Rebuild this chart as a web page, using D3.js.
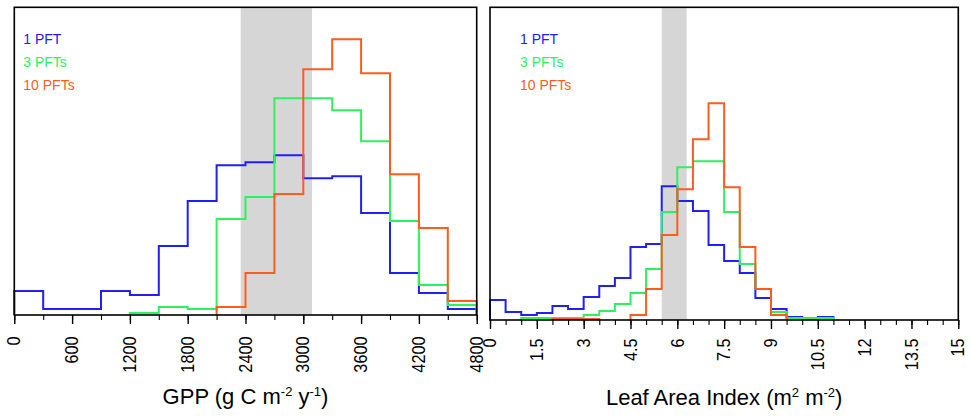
<!DOCTYPE html>
<html>
<head>
<meta charset="utf-8">
<script src="https://cdn.jsdelivr.net/npm/d3@7"></script>
<style>
  html, body { margin: 0; padding: 0; background: #fff; }
  svg { display: block; font-family: "Liberation Sans", Arial, Helvetica, sans-serif; }
</style>
</head>
<body>
<svg id="chart" width="970" height="418"></svg>
<script>
// ---------------- DATA ----------------
const seriesNames = ["1 PFT", "3 PFTs", "10 PFTs"];
const seriesColors = ["#2020f2", "#2cf25e", "#ff5c1e"];

// GPP histogram (bin starts, g C m-2 y-1), counts per bin
const gppBinWidth = 300;
const gppBins = [0, 300, 600, 900, 1200, 1500, 1800, 2100, 2400, 2700, 3000, 3300, 3600, 3900, 4200, 4500];
const gpp1PFT  = [24, 6, 6, 24, 20, 69, 114, 150, 153, 160, 137, 139, 102, 42, 22, 6];
const gpp3PFTs = [0, 0, 0, 0, 2, 8, 6, 96, 118, 217, 217, 205, 174, 94, 30, 10];
const gpp10PFTs = [0, 0, 0, 0, 0, 0, 0, 8, 42, 121, 246, 276, 242, 141, 87, 14];
const gppTicks = [0, 600, 1200, 1800, 2400, 3000, 3600, 4200, 4800];
const gppObsRange = [2350, 3090];

// LAI histogram (bin starts, m2 m-2), counts per bin
const laiBinWidth = 0.5;
const laiBins = [0, 0.5, 1, 1.5, 2, 2.5, 3, 3.5, 4, 4.5, 5, 5.5, 6, 6.5, 7, 7.5, 8, 8.5, 9, 9.5, 10, 10.5];
const lai1PFT  = [20, 8, 5, 7, 14, 11, 23, 34, 42, 73, 76, 134, 119, 109, 75, 59, 47, 22, 11, 3, 1, 3];
const lai3PFTs = [0, 0, 2, 2, 2, 2, 5, 9, 16, 27, 51, 108, 153, 159, 159, 108, 56, 31, 8, 2, 2, 2];
const lai10PFTs = [0, 0, 0, 0, 1, 1, 1, 0, 0, 5, 31, 85, 131, 181, 217, 133, 73, 31, 5, 0, 0, 0];
const laiTicks = [0, 1.5, 3, 4.5, 6, 7.5, 9, 10.5, 12, 13.5, 15];
const laiObsRange = [5.5, 6.3];

// ---------------- DRAW ----------------
const svg = d3.select("#chart");

function stepPath(bins, vals, w, x, y) {
  let d = "", open = false;
  for (let i = 0; i < bins.length; i++) {
    const v = vals[i];
    if (v > 0) {
      if (!open) { d += `M${x(bins[i])},${y(0)}`; open = true; }
      d += `V${y(v)}H${x(bins[i] + w)}`;
    } else if (open) {
      d += `V${y(0)}`; open = false;
    }
  }
  if (open) d += `V${y(0)}`;
  return d;
}

function panel(cfg) {
  const x = d3.scaleLinear().domain(cfg.xDomain).range([cfg.left, cfg.right]);
  const y = d3.scaleLinear().domain([0, cfg.yMax]).range([cfg.bottom, cfg.top]);
  const g = svg.append("g");

  // observed range shading
  g.append("rect")
    .attr("x", x(cfg.obs[0])).attr("y", cfg.top)
    .attr("width", x(cfg.obs[1]) - x(cfg.obs[0]))
    .attr("height", cfg.bottom - cfg.top)
    .attr("fill", "#d6d6d6");

  // histogram step lines
  cfg.series.forEach((vals, i) => {
    g.append("path")
      .attr("d", stepPath(cfg.bins, vals, cfg.binWidth, x, y))
      .attr("fill", "none")
      .attr("stroke", seriesColors[i])
      .attr("stroke-width", 2)
      .attr("stroke-linejoin", "miter");
  });

  // frame
  g.append("rect")
    .attr("x", cfg.left).attr("y", cfg.top)
    .attr("width", cfg.right - cfg.left).attr("height", cfg.bottom - cfg.top)
    .attr("fill", "none").attr("stroke", "#000").attr("stroke-width", 1.6);

  // minor ticks
  const minor = d3.range(cfg.xDomain[0], cfg.xDomain[1] + cfg.minorStep / 2, cfg.minorStep);
  g.append("g").attr("transform", `translate(0,${cfg.bottom})`)
    .call(d3.axisBottom(x).tickValues(minor).tickSize(5).tickFormat(""))
    .call(a => a.select(".domain").remove())
    .call(a => a.selectAll("line").attr("stroke", "#000").attr("stroke-width", 1.1));

  // major ticks + labels
  const ax = g.append("g").attr("transform", `translate(0,${cfg.bottom})`)
    .call(d3.axisBottom(x).tickValues(cfg.ticks).tickSize(9).tickFormat(d => String(d)))
    .call(a => a.select(".domain").remove());
  ax.selectAll("line").attr("stroke", "#000").attr("stroke-width", 1.4);
  ax.selectAll("text")
    .attr("fill", "#000")
    .attr("font-size", "17.5px")
    .attr("font-family", "Liberation Sans, Arial, sans-serif")
    .attr("text-anchor", "end")
    .attr("dy", null)
    .attr("y", null)
    .attr("dominant-baseline", "central")
    .attr("transform", `translate(0,${cfg.labelTop}) rotate(-90) scale(0.93,1)`);

  // legend
  seriesNames.forEach((n, i) => {
    g.append("text")
      .attr("x", cfg.legendX).attr("y", 43.5 + i * 23)
      .attr("fill", seriesColors[i])
      .attr("font-size", "14px")
      .text(n);
  });

  // axis title
  const t = g.append("text")
    .attr("x", (cfg.left + cfg.right) / 2).attr("y", cfg.titleY)
    .attr("text-anchor", "middle")
    .attr("font-size", "22px")
    .attr("fill", "#000");
  cfg.title.forEach(p => {
    const ts = t.append("tspan").text(p.t);
    if (p.sup) ts.attr("font-size", "13px").attr("dy", -8);
    if (p.down) ts.attr("dy", 8);
  });
}

panel({
  left: 14.3, right: 476.7, top: 7.3, bottom: 315,
  xDomain: [0, 4800], yMax: 308, obs: gppObsRange,
  bins: gppBins, binWidth: gppBinWidth,
  series: [gpp1PFT, gpp3PFTs, gpp10PFTs],
  ticks: gppTicks, minorStep: 300, labelTop: 21.5,
  legendX: 23.3, titleY: 404,
  title: [{t: "GPP (g C m"}, {t: "-2", sup: true}, {t: " y", down: true}, {t: "-1", sup: true}, {t: ")", down: true}]
});

panel({
  left: 490, right: 958.3, top: 7.3, bottom: 320,
  xDomain: [0, 15], yMax: 313, obs: laiObsRange,
  bins: laiBins, binWidth: laiBinWidth,
  series: [lai1PFT, lai3PFTs, lai10PFTs],
  ticks: laiTicks, minorStep: 0.5, labelTop: 18.5,
  legendX: 520, titleY: 405,
  title: [{t: "Leaf Area Index (m"}, {t: "2", sup: true}, {t: " m", down: true}, {t: "-2", sup: true}, {t: ")", down: true}]
});
</script>
</body>
</html>
